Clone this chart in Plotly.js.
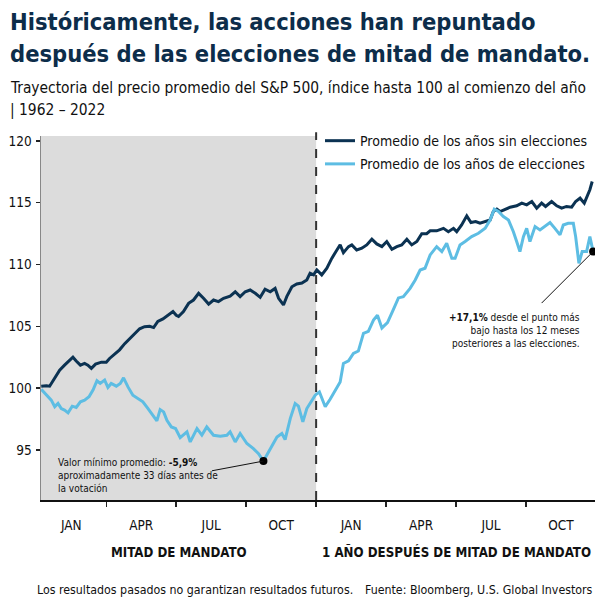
<!DOCTYPE html>
<html>
<head>
<meta charset="utf-8">
<script src="https://cdn.plot.ly/plotly-3.0.1.min.js"></script>
<style>
  body { margin: 0; background: #fff; }
  #chart { width: 600px; height: 600px; }
</style>
</head>
<body>
<div id="chart"></div>
<script>
// meses desde el 1 de enero del año de mitad de mandato (0 a 24)
let sinMeses = [0.21, 0.43, 0.57, 0.79, 1.0, 1.21, 1.43, 1.57, 1.71, 1.89, 2.07, 2.21, 2.36, 2.54, 2.79, 3.0,
    3.14, 3.36, 3.57, 3.79, 4.0, 4.21, 4.43, 4.64, 4.86, 5.03, 5.21, 5.43, 5.64, 5.86, 6.0, 6.1, 6.31, 6.53,
    6.74, 6.96, 7.17, 7.39, 7.6, 7.81, 8.03, 8.31, 8.53, 8.74, 8.96, 9.17, 9.39, 9.6, 9.81, 10.03, 10.24,
    10.39, 10.6, 10.74, 10.96, 11.17, 11.39, 11.6, 11.74, 11.89, 12.03, 12.24, 12.46, 12.67, 12.89, 13.03,
    13.17, 13.39, 13.53, 13.74, 13.96, 14.17, 14.39, 14.6, 14.82, 15.03, 15.25, 15.46, 15.67, 15.89, 16.1,
    16.32, 16.53, 16.74, 16.89, 17.17, 17.46, 17.67, 17.89, 18.03, 18.24, 18.46, 18.64, 18.84, 19.03, 19.25,
    19.46, 19.6, 19.75, 19.89, 20.1, 20.32, 20.6, 20.82, 21.03, 21.25, 21.46, 21.67, 21.84, 22.1, 22.32,
    22.53, 22.74, 22.96, 23.13, 23.32, 23.5, 23.64, 23.74, 23.84]
let sinValores = [100.16, 100.2, 100.16, 100.8, 101.46, 101.86, 102.3, 102.5, 102.2, 101.86, 102.0, 101.86,
    101.6, 101.94, 102.1, 102.1, 102.4, 102.8, 103.1, 103.6, 104.0, 104.4, 104.8, 104.97, 105.0, 104.9,
    105.4, 105.6, 105.9, 106.2, 105.9, 105.8, 106.2, 106.86, 107.13, 107.67, 107.27, 106.8, 107.13, 107.0,
    107.27, 107.45, 107.8, 107.4, 107.8, 107.94, 107.67, 107.35, 108.0, 107.8, 108.07, 107.27, 106.73, 107.4,
    108.2, 108.43, 108.5, 108.75, 109.3, 109.16, 109.56, 109.16, 109.7, 110.5, 111.18, 111.59, 110.96,
    111.45, 111.59, 111.18, 111.32, 111.59, 112.05, 111.67, 111.45, 111.86, 111.24, 111.45, 111.59, 112.05,
    111.59, 111.86, 112.5, 112.5, 112.73, 112.73, 112.93, 112.66, 112.93, 112.66, 113.2, 113.94, 113.4,
    113.48, 113.34, 113.48, 113.6, 114.29, 114.48, 114.29, 114.48, 114.64, 114.75, 114.97, 114.83, 115.1,
    114.56, 114.97, 114.7, 115.1, 114.75, 114.56, 114.7, 114.64, 115.1, 115.37, 114.97, 115.64, 116.05, 116.72]

let conMeses = [0.21, 0.43, 0.64, 0.79, 0.93, 1.07, 1.21, 1.36, 1.54, 1.71, 1.89, 2.07, 2.26, 2.43, 2.6, 2.74,
    2.93, 3.07, 3.21, 3.43, 3.6, 3.74, 3.93, 4.14, 4.36, 4.57, 4.79, 5.0, 5.17, 5.31, 5.46, 5.6, 5.79, 5.97,
    6.17, 6.46, 6.6, 6.89, 7.1, 7.31, 7.6, 7.89, 8.17, 8.31, 8.53, 8.74, 9.03, 9.31, 9.53, 9.74, 10.03,
    10.32, 10.53, 10.67, 10.89, 11.1, 11.24, 11.43, 11.6, 11.82, 11.96, 12.14, 12.39, 12.6, 12.89, 13.03,
    13.17, 13.39, 13.6, 13.81, 14.03, 14.24, 14.46, 14.63, 14.82, 15.06, 15.32, 15.53, 15.74, 16.03, 16.25,
    16.46, 16.67, 16.89, 17.17, 17.39, 17.6, 17.82, 17.96, 18.17, 18.39, 18.67, 18.96, 19.25, 19.46, 19.64,
    19.82, 20.03, 20.25, 20.46, 20.6, 20.74, 20.89, 21.03, 21.17, 21.39, 21.6, 21.82, 22.03, 22.24, 22.46,
    22.6, 22.81, 23.03, 23.13, 23.27, 23.41, 23.6, 23.74, 23.88]
let conValores = [99.9, 99.43, 99.03, 98.5, 98.76, 98.35, 98.22, 98.0, 98.54, 98.44, 98.9, 99.03, 99.3, 99.84,
    100.6, 100.38, 100.65, 100.06, 100.38, 100.16, 100.38, 100.83, 100.1, 99.43, 99.17, 98.9, 98.35, 97.8,
    97.35, 98.27, 98.08, 97.4, 96.86, 96.73, 96.0, 96.46, 95.65, 96.73, 96.2, 96.86, 96.19, 96.11, 96.19,
    96.46, 95.65, 96.33, 95.52, 95.11, 94.7, 94.1, 95.11, 96.05, 96.33, 95.84, 97.54, 98.76, 98.54, 97.27,
    98.35, 99.03, 99.43, 99.7, 98.5, 99.1, 100.1, 100.5, 102.0, 102.2, 102.8, 103.0, 104.43, 104.6, 105.5,
    105.9, 104.87, 105.3, 106.4, 107.3, 107.4, 108.07, 108.75, 109.56, 109.7, 110.78, 111.45, 111.05,
    111.73, 110.5, 110.5, 111.59, 111.86, 112.26, 112.53, 112.93, 113.6, 114.48, 114.29, 113.88, 113.6,
    112.66, 111.86, 111.05, 112.26, 112.93, 111.86, 113.07, 112.8, 113.07, 113.4, 112.93, 112.4, 113.2,
    113.34, 113.34, 112.26, 110.1, 111.05, 111.05, 112.26, 111.05]

let etiquetasMes = ['JAN', 'APR', 'JUL', 'OCT', 'JAN', 'APR', 'JUL', 'OCT']
let posEtiquetas = [1.5, 4.5, 7.5, 10.5, 13.5, 16.5, 19.5, 22.5]
let valoresY = [95, 100, 105, 110, 115, 120]

let fuente = 'DejaVu Sans Condensed, DejaVu Sans, sans-serif'
let azulOscuro = '#0b3252'
let azulClaro = '#5dbde3'

// punto mínimo y punto final de la serie de años de elecciones
let iMin = conValores.indexOf(Math.min(...conValores))
let iFin = conValores.length - 1

let traces = [{
    x: sinMeses,
    y: sinValores,
    mode: 'lines',
    name: 'Promedio de los años sin elecciones',
    legendgroup: 'a',
    line: { color: azulOscuro, width: 3 }
}, {
    x: conMeses,
    y: conValores,
    mode: 'lines',
    name: 'Promedio de los años de elecciones',
    legendgroup: 'b',
    line: { color: azulClaro, width: 3 }
}, {
    x: [conMeses[iMin], conMeses[iFin]],
    y: [conValores[iMin], conValores[iFin]],
    mode: 'markers',
    showlegend: false,
    marker: { color: '#000', size: 8 }
}]

let layout = {
    width: 600,
    height: 600,
    margin: { l: 41, r: 5, t: 136, b: 100 },
    paper_bgcolor: '#fff',
    plot_bgcolor: '#fff',
    font: { family: fuente, color: '#111' },
    showlegend: true,
    legend: {
        x: 0.5036, y: 1.03, xanchor: 'left', yanchor: 'top',
        bgcolor: 'rgba(0,0,0,0)',
        font: { size: 14, color: '#111' },
        tracegroupgap: 2
    },
    xaxis: {
        range: [0.2, 23.96],
        tickvals: posEtiquetas,
        ticktext: etiquetasMes,
        ticks: '',
        ticklabelstandoff: 12,
        tickfont: { size: 13.5, color: '#111' },
        minor: { tick0: 0, dtick: 3, ticks: 'outside', ticklen: 5, tickwidth: 1.5, tickcolor: '#222', showgrid: false },
        showline: true, linecolor: '#111', linewidth: 1.5,
        showgrid: false, zeroline: false, fixedrange: true
    },
    yaxis: {
        range: [90.95, 120.4],
        tickvals: valoresY,
        ticks: 'outside', ticklen: 4, tickcolor: '#222', tickwidth: 1.5,
        ticklabelstandoff: 1,
        tickfont: { size: 13.5, color: '#111' },
        showline: true, linecolor: '#888', linewidth: 1.5,
        showgrid: false, zeroline: false, fixedrange: true
    },
    shapes: [{
        type: 'rect', xref: 'x', yref: 'paper',
        x0: 0.2, x1: 12, y0: 0, y1: 1,
        fillcolor: '#dcdcdc', line: { width: 0 }, layer: 'below'
    }, {
        type: 'line', xref: 'x', yref: 'paper',
        x0: 12, x1: 12, y0: 0, y1: 1.01,
        line: { color: '#333', width: 2, dash: 'dash' }
    }],
    annotations: [
        {
            xref: 'paper', yref: 'paper', x: -0.06, y: 1.313, xanchor: 'left', yanchor: 'middle',
            text: '<b>Históricamente, las acciones han repuntado</b>', showarrow: false,
            font: { size: 23.5, color: '#0d2d4a' }
        },
        {
            xref: 'paper', yref: 'paper', x: -0.06, y: 1.225, xanchor: 'left', yanchor: 'middle',
            text: '<b>después de las elecciones de mitad de mandato.</b>', showarrow: false,
            font: { size: 23.5, color: '#0d2d4a' }
        },
        {
            xref: 'paper', yref: 'paper', x: -0.06, y: 1.132, xanchor: 'left', yanchor: 'middle',
            text: 'Trayectoria del precio promedio del S&P 500, índice hasta 100 al comienzo del año', showarrow: false,
            font: { size: 15.4, color: '#111' }
        },
        {
            xref: 'paper', yref: 'paper', x: -0.06, y: 1.071, xanchor: 'left', yanchor: 'middle',
            text: '| 1962 – 2022', showarrow: false,
            font: { size: 15.4, color: '#111' }
        },
        {
            xref: 'x', yref: 'paper', x: 6.1, y: -0.143, xanchor: 'center', yanchor: 'middle',
            text: '<b>MITAD DE MANDATO</b>', showarrow: false,
            font: { size: 13.2, color: '#111' }
        },
        {
            xref: 'x', yref: 'paper', x: 18, y: -0.143, xanchor: 'center', yanchor: 'middle',
            text: '<b>1 AÑO DESPUÉS DE MITAD DE MANDATO</b>', showarrow: false,
            font: { size: 13.2, color: '#111' }
        },
        {
            xref: 'paper', yref: 'paper', x: -0.011, y: -0.247, xanchor: 'left', yanchor: 'middle',
            text: 'Los resultados pasados no garantizan resultados futuros.', showarrow: false,
            font: { size: 12.3, color: '#111' }
        },
        {
            xref: 'paper', yref: 'paper', x: 1, y: -0.247, xanchor: 'right', yanchor: 'middle',
            text: 'Fuente: Bloomberg, U.S. Global Investors', showarrow: false,
            font: { size: 12.3, color: '#111' }
        },
        {
            xref: 'paper', yref: 'paper', x: 0.027, y: 0.123, xanchor: 'left', yanchor: 'top',
            text: 'Valor mínimo promedio: <b>-5,9%</b><br>aproximadamente 33 días antes de<br>la votación',
            align: 'left', showarrow: false,
            font: { size: 10, color: '#111' }
        },
        {
            xref: 'paper', yref: 'paper', x: 0.9765, y: 0.522, xanchor: 'right', yanchor: 'top',
            text: '<b>+17,1%</b> desde el punto más<br>bajo hasta los 12 meses<br>posteriores a las elecciones.',
            align: 'right', showarrow: false,
            font: { size: 10, color: '#111' }
        },
        {
            x: conMeses[iMin], y: conValores[iMin], text: '', showarrow: true,
            arrowhead: 0, arrowwidth: 1, arrowcolor: '#111', ax: -53, ay: 10, standoff: 0
        },
        {
            x: conMeses[iFin], y: conValores[iFin], text: '', showarrow: true,
            arrowhead: 0, arrowwidth: 1, arrowcolor: '#111', ax: -53, ay: 53, standoff: 0
        }
    ]
}

Plotly.newPlot('chart', traces, layout, { displayModeBar: false, staticPlot: true })
</script>
</body>
</html>
